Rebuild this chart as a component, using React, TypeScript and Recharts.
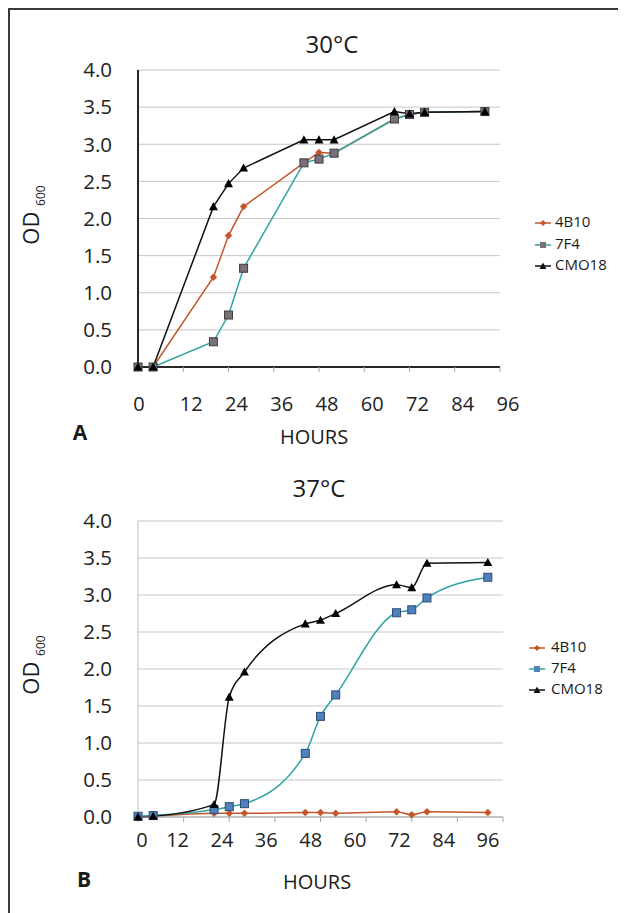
import React from "react";
import { LineChart, Line, XAxis, YAxis, CartesianGrid } from "recharts";

const hours = [0, 4, 20, 24, 28, 44, 48, 52, 68, 72, 76, 92];
const xTicks = [0, 12, 24, 36, 48, 60, 72, 84, 96];
const yTicks = [0, 0.5, 1, 1.5, 2, 2.5, 3, 3.5, 4];
const seriesNames = ["4B10", "7F4", "CMO18"];

// 30 °C
const top4B10 = [0, 0, 1.21, 1.77, 2.16, 2.75, 2.89, 2.88, 3.34, 3.4, 3.43, 3.44];
const top7F4 = [0, 0, 0.34, 0.7, 1.33, 2.75, 2.8, 2.88, 3.34, 3.4, 3.43, 3.44];
const topCMO18 = [0, 0, 2.16, 2.47, 2.68, 3.06, 3.06, 3.06, 3.44, 3.41, 3.43, 3.44];

// 37 °C
const bot4B10 = [0, 0.01, 0.05, 0.05, 0.05, 0.06, 0.06, 0.05, 0.07, 0.03, 0.07, 0.06];
const bot7F4 = [0.01, 0.02, 0.1, 0.14, 0.18, 0.86, 1.36, 1.65, 2.76, 2.8, 2.96, 3.24];
const botCMO18 = [0, 0.01, 0.17, 1.62, 1.96, 2.61, 2.66, 2.75, 3.14, 3.1, 3.43, 3.44];

const topData = hours.map((h, i) => ({ h, a: top4B10[i], b: top7F4[i], c: topCMO18[i] }));
const botData = hours.map((h, i) => ({ h, a: bot4B10[i], b: bot7F4[i], c: botCMO18[i] }));

const FONT = "'Open Sans', 'DejaVu Sans', sans-serif";
const ORANGE = "#C4552B";
const TEAL = "#2FA3A3";

const makeDiamond = (fill: string, r: number) => (props: any) => {
  const { cx, cy, index } = props;
  if (cx == null || cy == null) return <g key={`dm-${index}`} />;
  return (
    <polygon
      key={`dm-${index}`}
      points={`${cx},${cy - r} ${cx + r},${cy} ${cx},${cy + r} ${cx - r},${cy}`}
      fill={fill}
      stroke={fill}
      strokeWidth={0.5}
    />
  );
};

const makeSquare = (fill: string, stroke: string, r: number) => (props: any) => {
  const { cx, cy, index } = props;
  if (cx == null || cy == null) return <g key={`sq-${index}`} />;
  return (
    <rect key={`sq-${index}`} x={cx - r} y={cy - r} width={2 * r} height={2 * r} fill={fill} stroke={stroke} strokeWidth={1} />
  );
};

const makeTriangle = (fill: string, r: number) => (props: any) => {
  const { cx, cy, index } = props;
  if (cx == null || cy == null) return <g key={`tr-${index}`} />;
  return (
    <polygon
      key={`tr-${index}`}
      points={`${cx},${cy - r} ${cx + r},${cy + r * 0.8} ${cx - r},${cy + r * 0.8}`}
      fill={fill}
    />
  );
};

const makeXTick = (shift: (v: number) => number) => (props: any) => {
  const { x, y, payload } = props;
  return (
    <text x={x + shift(payload.value)} y={y} dy="0.71em" textAnchor="middle" fontSize={20} fill="#222" fontFamily={FONT}>
      {payload.value}
    </text>
  );
};

const topShift = (v: number) => (v === 0 ? 1 : 8);
const botShift = (v: number) => (v === 0 ? 4 : -6 - ((v - 12) / 84) * 9);

const Txt = ({ x, y, size, bold, children }: any) => (
  <div
    style={{
      position: "absolute",
      left: x - 8,
      top: y - 8,
      transform: "translate(-50%, -50%)",
      fontSize: size,
      fontWeight: bold ? 700 : 400,
      fontFamily: FONT,
      color: "#1a1a1a",
      lineHeight: 1,
      whiteSpace: "nowrap",
    }}
  >
    {children}
  </div>
);

const YTitle = ({ x, y }: any) => (
  <div
    style={{
      position: "absolute",
      left: x - 8,
      top: y - 8,
      transform: "translate(-50%, -50%) rotate(-90deg)",
      fontSize: 22,
      fontFamily: FONT,
      color: "#1a1a1a",
      lineHeight: 1,
      whiteSpace: "nowrap",
    }}
  >
    OD <span style={{ fontSize: 12, position: "relative", top: 6 }}>600</span>
  </div>
);

const LegendIcon = ({ kind, color, mfill }: any) => (
  <svg width={16} height={10} style={{ display: "block" }}>
    <line x1={0} y1={5} x2={16} y2={5} stroke={color} strokeWidth={1.5} />
    {kind === "d" && <polygon points="8,2 11,5 8,8 5,5" fill={mfill} />}
    {kind === "s" && <rect x={5} y={2} width={6} height={6} fill={mfill} />}
    {kind === "t" && <polygon points="8,1.5 11.5,8 4.5,8" fill={mfill} />}
  </svg>
);

const LegendBlock = ({ x, y, gap, textX, items }: any) => (
  <>
    {items.map((it: any, i: number) => (
      <div
        key={it.name}
        style={{
          position: "absolute",
          left: x - 8,
          top: y - 8 + i * gap - 5,
          display: "flex",
          alignItems: "center",
        }}
      >
        <LegendIcon kind={it.kind} color={it.color} mfill={it.mfill} />
        <span
          style={{
            position: "absolute",
            left: textX - x,
            top: -4,
            fontSize: 15,
            fontFamily: FONT,
            color: "#1a1a1a",
            lineHeight: 1,
            whiteSpace: "nowrap",
          }}
        >
          {it.name}
        </span>
      </div>
    ))}
  </>
);

export default function App() {
  const topItems = [
    { name: seriesNames[0], kind: "d", color: ORANGE, mfill: ORANGE },
    { name: seriesNames[1], kind: "s", color: TEAL, mfill: "#7B6F7A" },
    { name: seriesNames[2], kind: "t", color: "#111", mfill: "#111" },
  ];
  const botItems = [
    { name: seriesNames[0], kind: "d", color: ORANGE, mfill: ORANGE },
    { name: seriesNames[1], kind: "s", color: TEAL, mfill: "#4F81BD" },
    { name: seriesNames[2], kind: "t", color: "#111", mfill: "#111" },
  ];

  return (
    <div style={{ position: "relative", width: 618, height: 905, fontFamily: FONT }}>
      <div
        style={{
          position: "absolute",
          left: 0,
          top: 0,
          width: 618,
          height: 905,
          boxSizing: "border-box",
          borderLeft: "2px solid #3a3a3a",
          borderTop: "2px solid #3a3a3a",
        }}
      />

      {/* Top chart: 30 °C */}
      <div style={{ position: "absolute", left: 0, top: 0 }}>
        <LineChart width={610} height={440} data={topData} margin={{ top: 62, right: 118, bottom: 31, left: 70 }}>
          <CartesianGrid vertical={false} stroke="#C6C6C6" strokeWidth={1} />
          <XAxis
            dataKey="h"
            type="number"
            domain={[0, 96]}
            ticks={xTicks}
            interval={0}
            height={50}
            axisLine={{ stroke: "#262626", strokeWidth: 2 }}
            tickLine={{ stroke: "#A8A8A8" }}
            tickSize={5}
            tickMargin={25}
            tick={makeXTick(topShift)}
          />
          <YAxis
            type="number"
            domain={[0, 4]}
            ticks={yTicks}
            interval={0}
            width={60}
            axisLine={{ stroke: "#262626", strokeWidth: 2 }}
            tickLine={false}
            tickSize={6}
            tickMargin={20}
            tickFormatter={(v: number) => v.toFixed(1)}
            tick={{ fontSize: 20.5, fill: "#222", fontFamily: FONT }}
          />
          <Line type="linear" dataKey="a" name={seriesNames[0]} stroke={ORANGE} strokeWidth={1.5} dot={makeDiamond(ORANGE, 3.5)} isAnimationActive={false} />
          <Line type="linear" dataKey="b" name={seriesNames[1]} stroke={TEAL} strokeWidth={1.5} dot={makeSquare("#7B6F7A", "#3c3c3c", 4)} isAnimationActive={false} />
          <Line type="linear" dataKey="c" name={seriesNames[2]} stroke="#111" strokeWidth={1.5} dot={makeTriangle("#000", 4.5)} isAnimationActive={false} />
        </LineChart>
      </div>

      {/* Bottom chart: 37 °C */}
      <div style={{ position: "absolute", left: 0, top: 452 }}>
        <LineChart width={610} height={440} data={botData} margin={{ top: 61, right: 115, bottom: 33, left: 70 }}>
          <CartesianGrid vertical={false} stroke="#C6C6C6" strokeWidth={1} />
          <XAxis
            dataKey="h"
            type="number"
            domain={[0, 96]}
            ticks={xTicks}
            interval={0}
            height={50}
            axisLine={{ stroke: "#A6A6A6", strokeWidth: 1 }}
            tickLine={{ stroke: "#A6A6A6" }}
            tickSize={5}
            tickMargin={11}
            tick={makeXTick(botShift)}
          />
          <YAxis
            type="number"
            domain={[0, 4]}
            ticks={yTicks}
            interval={0}
            width={60}
            axisLine={{ stroke: "#BDBDBD", strokeWidth: 1 }}
            tickLine={false}
            tickSize={6}
            tickMargin={20}
            tickFormatter={(v: number) => v.toFixed(1)}
            tick={{ fontSize: 20.5, fill: "#222", fontFamily: FONT }}
          />
          <Line type="monotone" dataKey="a" name={seriesNames[0]} stroke={ORANGE} strokeWidth={1.5} dot={makeDiamond(ORANGE, 3.5)} isAnimationActive={false} />
          <Line type="monotone" dataKey="b" name={seriesNames[1]} stroke={TEAL} strokeWidth={1.5} dot={makeSquare("#4F81BD", "#2E4A70", 4)} isAnimationActive={false} />
          <Line type="monotone" dataKey="c" name={seriesNames[2]} stroke="#111" strokeWidth={1.5} dot={makeTriangle("#000", 4.5)} isAnimationActive={false} />
        </LineChart>
      </div>

      <Txt x={332} y={44} size={24}>30°C</Txt>
      <Txt x={319} y={488} size={24}>37°C</Txt>
      <YTitle x={30} y={215} />
      <YTitle x={30} y={665} />
      <Txt x={80} y={432} size={21} bold>A</Txt>
      <Txt x={84} y={879} size={21} bold>B</Txt>
      <Txt x={314} y={437} size={20}>HOURS</Txt>
      <Txt x={317} y={882} size={20}>HOURS</Txt>

      <LegendBlock x={535} y={223} gap={21.5} textX={555} items={topItems} />
      <LegendBlock x={529} y={648} gap={21} textX={551} items={botItems} />
    </div>
  );
}
